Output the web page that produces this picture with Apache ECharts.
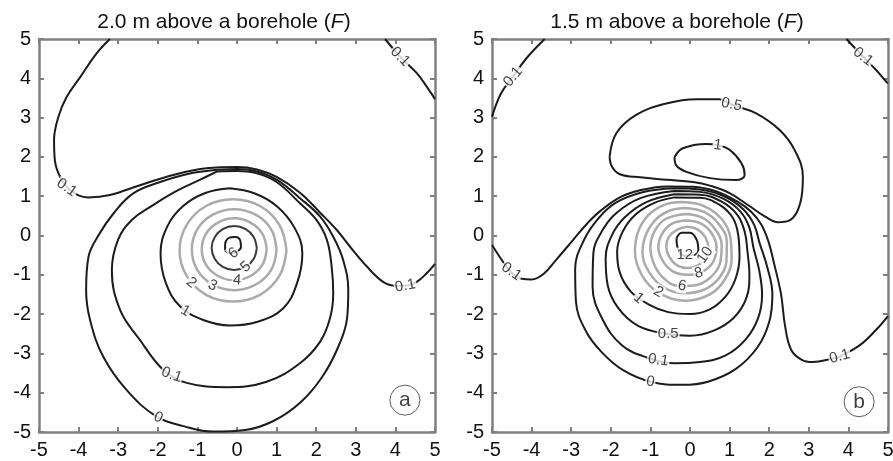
<!DOCTYPE html>
<html>
<head>
<meta charset="utf-8">
<title>Contours above a borehole</title>
<script src="https://cdn.jsdelivr.net/npm/echarts@6/dist/echarts.min.js"></script>
<style>
  html, body { margin: 0; padding: 0; background: #fff; }
  #chart { width: 893px; height: 461px; }
</style>
</head>
<body>
<div id="chart"></div>
<script>
// tick values shared by both panels
const ticks = [-5, -4, -3, -2, -1, 0, 1, 2, 3, 4, 5];
const panelTitles = ['2.0 m above a borehole', '1.5 m above a borehole'];

// ---- panel (a): 2.0 m ----
const aOpen01 = [[-3.21,5.0],[-3.54,4.64],[-3.96,4.03],[-4.30,3.53],[-4.51,3.02],[-4.62,2.43],[-4.6,1.92],[-4.47,1.5],[-4.22,1.16],[-3.76,0.97],[-3.21,1.03],[-2.45,1.28],[-1.61,1.54],[-0.77,1.71],[0.0,1.74],[0.5,1.68],[1.0,1.49],[1.59,1.09],[2.10,0.58],[2.52,0.14],[2.85,-0.28],[3.28,-0.79],[3.69,-1.18],[4.0,-1.28],[4.3,-1.27],[4.54,-1.18],[4.79,-0.96],[5.0,-0.72]];
const aCorner01 = [[3.74,5.0],[4.12,4.55],[4.54,4.13],[4.79,3.79],[5.0,3.47]];
const aRing0 = [[-0.5,1.67],[0,1.69],[0.5,1.63],[1.0,1.42],[1.59,0.95],[2.10,0.48],[2.43,-0.03],[2.68,-0.62],[2.81,-1.39],[2.78,-2.1],[2.55,-2.85],[2.15,-3.6],[1.6,-4.25],[0.92,-4.72],[0.2,-4.95],[-0.6,-4.99],[-1.35,-4.85],[-2.03,-4.61],[-2.79,-3.93],[-3.38,-3.08],[-3.71,-2.15],[-3.81,-1.39],[-3.75,-0.54],[-3.5,0.0],[-3.12,0.56],[-2.62,1.07],[-1.94,1.36],[-1.27,1.56]];
const aRing01 = [[-0.5,1.63],[0,1.64],[0.5,1.58],[1.0,1.36],[1.59,0.82],[2.01,0.39],[2.27,-0.11],[2.39,-0.79],[2.43,-1.47],[2.35,-2.1],[2.1,-2.7],[1.59,-3.25],[0.75,-3.72],[-0.26,-3.86],[-1.27,-3.75],[-1.86,-3.42],[-2.45,-2.66],[-2.95,-1.9],[-3.16,-0.88],[-3.0,-0.1],[-2.65,0.4],[-2.2,0.72],[-1.57,1.11],[-0.93,1.42]];
const aRing1 = [[-0.18,1.2],[0.45,1.07],[1.0,0.75],[1.45,0.2],[1.65,-0.45],[1.52,-1.2],[1.17,-1.85],[0.5,-2.2],[-0.18,-2.29],[-0.85,-2.15],[-1.44,-1.8],[-1.8,-1.2],[-1.93,-0.45],[-1.75,0.25],[-1.36,0.75],[-0.8,1.08]];
const aRing2 = [[1.25,-0.38],[1.07,0.27],[0.58,0.75],[-0.1,0.92],[-0.78,0.75],[-1.27,0.27],[-1.45,-0.38],[-1.27,-1.03],[-0.78,-1.51],[-0.1,-1.68],[0.58,-1.51],[1.07,-1.03]];
const aRing3 = [[1.0,-0.36],[0.86,0.16],[0.47,0.53],[-0.07,0.67],[-0.61,0.53],[-1.0,0.16],[-1.14,-0.36],[-1.0,-0.88],[-0.61,-1.25],[-0.07,-1.39],[0.47,-1.25],[0.86,-0.88]];
const aRing4 = [[0.75,-0.35],[0.64,0.05],[0.34,0.33],[-0.07,0.44],[-0.48,0.33],[-0.78,0.05],[-0.89,-0.35],[-0.78,-0.75],[-0.48,-1.03],[-0.07,-1.14],[0.34,-1.03],[0.64,-0.75]];
const aRing5 = [[0.5,-0.32],[0.42,-0.04],[0.22,0.16],[-0.07,0.24],[-0.36,0.16],[-0.56,-0.04],[-0.64,-0.32],[-0.56,-0.6],[-0.36,-0.8],[-0.07,-0.88],[0.22,-0.8],[0.42,-0.6]];
const aRing6 = [[-0.3,-0.2],[-0.22,-0.07],[-0.05,-0.04],[0.08,-0.12],[0.1,-0.3],[-0.02,-0.42],[-0.15,-0.45],[-0.3,-0.35]];
const aLabels = [
  [4.12, 4.55, '0.1', -45], [-4.3, 1.22, '0.1', -35], [4.25, -1.28, '0.1', 10],
  [-1.3, -1.92, '1', -30], [-1.15, -1.2, '2', -40], [-0.62, -1.27, '3', -25],
  [0.0, -1.14, '4', -5], [0.22, -0.8, '5', 40], [-0.09, -0.45, '6', 35],
  [-1.65, -3.55, '0.1', -20], [-1.99, -4.63, '0', -25]
];

// ---- panel (b): 1.5 m ----
const bCorner01L = [[-3.67,5.0],[-4.13,4.51],[-4.47,4.04],[-4.77,3.62],[-5.0,3.02]];
const bCorner01R = [[3.95,5.0],[4.37,4.55],[4.7,4.21],[4.96,3.91],[5.0,3.88]];
const bOpen01 = [[-5,-0.24],[-4.72,-0.67],[-4.51,-0.95],[-4.25,-1.1],[-4.0,-1.12],[-3.7,-0.98],[-3.38,-0.62],[-2.95,-0.11],[-2.6,0.3],[-2.27,0.62],[-1.77,0.97],[-1.26,1.15],[-0.59,1.25],[0.08,1.24],[0.67,1.12],[1.2,0.86],[1.55,0.6],[1.8,0.28],[1.98,-0.15],[2.12,-0.7],[2.3,-1.5],[2.4,-2.3],[2.55,-2.9],[2.8,-3.15],[3.1,-3.22],[3.6,-3.13],[3.78,-3.08],[4.29,-2.79],[4.7,-2.4],[5.0,-2.05]];
const bLobe05 = [[-2.03,2.0],[-1.86,2.6],[-1.36,3.07],[-0.6,3.36],[0.16,3.47],[0.75,3.47],[1.05,3.33],[1.67,3.11],[2.27,2.68],[2.64,2.18],[2.85,1.5],[2.82,1.0],[2.7,0.6],[2.5,0.38],[2.22,0.34],[1.9,0.48],[1.5,0.75],[1.0,1.08],[0.5,1.27],[0.08,1.36],[-0.59,1.42],[-1.26,1.48],[-1.77,1.56],[-1.97,1.75]];
const bLobe1 = [[-0.39,2.0],[-0.18,2.22],[0.41,2.33],[0.7,2.3],[1.0,2.18],[1.3,1.84],[1.38,1.54],[1.17,1.41],[0.5,1.46],[-0.09,1.62],[-0.35,1.79]];
const bRing0 = [[-0.4,1.2],[0.25,1.17],[0.9,0.98],[1.35,0.66],[1.62,0.27],[1.76,-0.2],[1.95,-0.8],[2.08,-1.5],[2.0,-2.2],[1.7,-2.85],[1.15,-3.4],[0.45,-3.72],[-0.18,-3.8],[-1.0,-3.72],[-1.7,-3.42],[-2.2,-3.0],[-2.62,-2.45],[-2.88,-1.68],[-2.9,-0.85],[-2.66,-0.08],[-2.3,0.45],[-1.88,0.83],[-1.2,1.1]];
const bRing01 = [[-0.4,1.13],[0.25,1.11],[0.85,0.93],[1.28,0.6],[1.5,0.2],[1.6,-0.3],[1.75,-0.9],[1.82,-1.5],[1.72,-2.1],[1.4,-2.65],[0.9,-3.05],[0.25,-3.22],[-0.4,-3.25],[-1.1,-3.1],[-1.72,-2.79],[-2.2,-2.15],[-2.46,-1.3],[-2.44,-0.45],[-2.2,0.15],[-1.85,0.58],[-1.25,0.95]];
const bRing05 = [[-0.4,1.05],[0.25,1.04],[0.8,0.86],[1.2,0.52],[1.38,0.1],[1.45,-0.4],[1.5,-1.0],[1.42,-1.6],[1.1,-2.1],[0.6,-2.42],[0.0,-2.55],[-0.6,-2.5],[-1.31,-2.3],[-1.81,-1.85],[-2.08,-1.26],[-2.13,-0.58],[-1.97,0.01],[-1.64,0.47],[-1.1,0.85]];
const bRing1 = [[-0.4,0.97],[0.25,0.96],[0.75,0.78],[1.08,0.45],[1.22,0.0],[1.25,-0.55],[1.15,-1.1],[0.9,-1.55],[0.5,-1.88],[0.0,-2.0],[-0.55,-1.95],[-1.05,-1.75],[-1.5,-1.42],[-1.78,-0.92],[-1.84,-0.41],[-1.7,0.1],[-1.38,0.53],[-0.9,0.83]];
const bRing2 = [[-0.2,0.85],[0.35,0.75],[0.8,0.42],[1.02,-0.05],[1.05,-0.6],[0.88,-1.12],[0.5,-1.5],[-0.1,-1.66],[-0.8,-1.45],[-1.22,-1.0],[-1.39,-0.41],[-1.31,0.1],[-1.05,0.52],[-0.65,0.78]];
const bRing4 = [[-0.15,0.7],[0.35,0.6],[0.72,0.3],[0.93,-0.15],[0.92,-0.65],[0.72,-1.1],[0.35,-1.38],[-0.15,-1.47],[-0.65,-1.33],[-1.02,-0.95],[-1.2,-0.42],[-1.1,0.05],[-0.85,0.42],[-0.52,0.63]];
const bRing6 = [[-0.1,0.55],[0.3,0.46],[0.62,0.18],[0.8,-0.25],[0.76,-0.7],[0.5,-1.08],[0.1,-1.27],[-0.3,-1.28],[-0.65,-1.1],[-0.9,-0.75],[-1.0,-0.3],[-0.9,0.1],[-0.62,0.42]];
const bRing8 = [[-0.07,0.38],[0.28,0.3],[0.55,0.05],[0.67,-0.3],[0.58,-0.68],[0.3,-0.93],[-0.07,-1.0],[-0.42,-0.92],[-0.68,-0.66],[-0.8,-0.3],[-0.7,0.05],[-0.45,0.3]];
const bRing10 = [[-0.07,0.22],[0.2,0.15],[0.39,-0.05],[0.46,-0.3],[0.39,-0.57],[0.2,-0.76],[-0.07,-0.83],[-0.34,-0.75],[-0.53,-0.53],[-0.6,-0.28],[-0.53,-0.03],[-0.32,0.15]];
const bRing12 = [[-0.34,-0.07],[-0.21,0.07],[0.0,0.07],[0.17,-0.11],[0.21,-0.37],[0.1,-0.5],[-0.13,-0.52],[-0.3,-0.35]];
const bLabels = [
  [-4.47, 4.04, '0.1', 50], [4.37, 4.55, '0.1', -38], [1.05, 3.33, '0.5', -12],
  [0.7, 2.3, '1', -8], [-4.51, -0.92, '0.1', -35], [3.78, -3.08, '0.1', 15],
  [-1.0, -3.72, '0', -8], [-0.8, -3.17, '0.1', -8], [-0.55, -2.5, '0.5', 0],
  [-1.3, -1.6, '1', -40], [-0.8, -1.44, '2', -30], [-0.2, -1.28, '6', -10],
  [0.22, -0.96, '8', 15], [0.38, -0.5, '10', 55], [-0.13, -0.5, '12', 0]
];

const panelMarks = [[4.24, -4.19, 'a'], [4.27, -4.23, 'b']];

const FONT = 'Arial, "Liberation Sans", Helvetica, sans-serif';
const BLACK = '#1c1c1c';
const GRAY = '#ababab';
const AXIS = '#808080';

const grids = [
  { left: 39, top: 39, width: 396, height: 393 },
  { left: 492, top: 39, width: 396, height: 393 }
];

function makeAxes(gridIndex, dim) {
  const base = {
    gridIndex,
    type: 'value',
    min: ticks[0],
    max: ticks[ticks.length - 1],
    interval: 1,
    splitLine: { show: false },
    axisLine: { show: true, onZero: false, lineStyle: { color: AXIS, width: 2.5 } },
    axisTick: { show: true, inside: true, length: 5, lineStyle: { color: AXIS, width: 2 } }
  };
  const labelled = Object.assign({}, base, {
    position: dim === 'x' ? 'bottom' : 'left',
    axisLabel: { show: true, color: '#111', fontSize: 20, fontFamily: FONT, margin: 8, showMinLabel: true, showMaxLabel: true }
  });
  const mirror = Object.assign({}, base, {
    position: dim === 'x' ? 'top' : 'right',
    axisLabel: { show: false }
  });
  return [labelled, mirror];
}

const series = [];

function line(grid, pts, closed, color, width) {
  const data = closed ? pts.concat([pts[0]]) : pts;
  series.push({
    type: 'line',
    xAxisIndex: grid * 2,
    yAxisIndex: grid * 2,
    data: data,
    smooth: 0.4,
    symbol: 'none',
    silent: true,
    lineStyle: { color: color, width: width }
  });
}

function labels(grid, list) {
  series.push({
    type: 'scatter',
    xAxisIndex: grid * 2,
    yAxisIndex: grid * 2,
    symbolSize: 1,
    itemStyle: { color: 'rgba(0,0,0,0)' },
    silent: true,
    z: 5,
    label: {
      show: true, position: 'inside', color: '#111', fontSize: 15, fontFamily: FONT,
      backgroundColor: '#fff', padding: [0, 1]
    },
    data: list.map(l => ({ value: [l[0], l[1]], label: { formatter: l[2], rotate: l[3] } }))
  });
}

// panel a
line(0, aOpen01, false, BLACK, 2);
line(0, aCorner01, false, BLACK, 2);
line(0, aRing0, true, BLACK, 2);
line(0, aRing01, true, BLACK, 2);
line(0, aRing1, true, BLACK, 2);
line(0, aRing2, true, GRAY, 2.5);
line(0, aRing3, true, GRAY, 2.5);
line(0, aRing4, true, GRAY, 2.5);
line(0, aRing5, true, '#3a3a3a', 2);
line(0, aRing6, true, BLACK, 2);
labels(0, aLabels);

// panel b
line(1, bCorner01L, false, BLACK, 2);
line(1, bCorner01R, false, BLACK, 2);
line(1, bOpen01, false, BLACK, 2);
line(1, bLobe05, true, BLACK, 2);
line(1, bLobe1, true, BLACK, 2);
line(1, bRing0, true, BLACK, 2);
line(1, bRing01, true, BLACK, 2);
line(1, bRing05, true, BLACK, 2);
line(1, bRing1, true, BLACK, 2);
line(1, bRing2, true, GRAY, 2.5);
line(1, bRing4, true, GRAY, 2.5);
line(1, bRing6, true, GRAY, 2.5);
line(1, bRing8, true, GRAY, 2.5);
line(1, bRing10, true, GRAY, 2.5);
line(1, bRing12, true, BLACK, 2);
labels(1, bLabels);

// circled panel letters
panelMarks.forEach((m, i) => {
  series.push({
    type: 'scatter',
    xAxisIndex: i * 2,
    yAxisIndex: i * 2,
    symbol: 'circle',
    symbolSize: 30,
    silent: true,
    z: 6,
    itemStyle: { color: '#fff', borderColor: '#333', borderWidth: 1 },
    label: { show: true, position: 'inside', formatter: m[2], color: '#111', fontSize: 21, fontFamily: FONT },
    data: [[m[0], m[1]]]
  });
});

const titleRich = {
  n: { fontSize: 21, fontWeight: 'normal', fontFamily: FONT, color: '#111' },
  i: { fontSize: 21, fontWeight: 'normal', fontFamily: FONT, color: '#111', fontStyle: 'italic' }
};

const option = {
  animation: false,
  backgroundColor: '#fff',
  title: [
    { text: '{n|' + panelTitles[0] + ' (}{i|F}{n|)}', left: 219, top: 7, textAlign: 'center', textStyle: { fontWeight: 'normal', rich: titleRich } },
    { text: '{n|' + panelTitles[1] + ' (}{i|F}{n|)}', left: 672, top: 7, textAlign: 'center', textStyle: { fontWeight: 'normal', rich: titleRich } }
  ],
  grid: grids.map(g => Object.assign({ containLabel: false, outerBoundsMode: 'none' }, g)),
  xAxis: [].concat(makeAxes(0, 'x'), makeAxes(1, 'x')),
  yAxis: [].concat(makeAxes(0, 'y'), makeAxes(1, 'y')),
  series: series
};

const chart = echarts.init(document.getElementById('chart'), null, { renderer: 'canvas' });
chart.setOption(option);
</script>
</body>
</html>
